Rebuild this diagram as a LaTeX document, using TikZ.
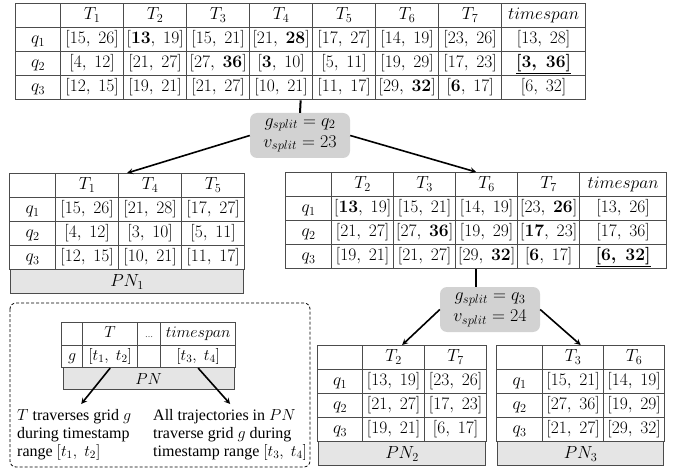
\RequirePackage{fix-cm}
\documentclass[tikz,border=0pt]{standalone}
\usepackage[no-math]{fontspec}
\setmainfont{Liberation Serif}
\usetikzlibrary{matrix,calc}

\newcommand{\cellsize}{\fontsize{17.5}{20}\selectfont}
\newcommand{\iv}[2]{$[#1,\;#2]$}
\newcommand{\bspan}[2]{\underline{\mbox{\boldmath$[#1,\;#2]$}}}

\tikzset{
    tbl/.style={matrix of nodes, nodes in empty cells, anchor=north west, inner sep=0pt,
        column sep=-0.9pt, row sep=-0.9pt,
        nodes={draw=black!70, line width=0.9pt, anchor=center, inner sep=1pt,
            minimum height=24pt, text height=12pt, text depth=4pt, font=\cellsize}},
    pnrow/.style={draw=black!70, line width=0.9pt, fill=gray!20, inner sep=0pt, anchor=north,
        minimum height=24pt, font=\cellsize},
    splitbox/.style={fill=gray!35, rounded corners=7pt, align=center, minimum width=100pt,
        minimum height=45pt, inner sep=2pt, font=\fontsize{18}{21}\selectfont},
    stem/.style={line width=2pt},
    arr/.style={->, >=stealth, line width=1.6pt},
    note/.style={align=left, anchor=north west, inner sep=0pt, font=\fontsize{16}{18}\selectfont}
}

\begin{document}
\begin{tikzpicture}[x=1pt, y=-1pt]
    \useasboundingbox (0,0) rectangle (677,470);

    % root table
    \matrix (top) [tbl, nodes={minimum width=63pt}, column 1/.style={nodes={minimum width=45pt}},
        column 9/.style={nodes={minimum width=84pt}}] at (15,3) {
          & $T_1$ & $T_2$ & $T_3$ & $T_4$ & $T_5$ & $T_6$ & $T_7$ & $timespan$ \\
        $q_1$ & \iv{15}{26} & \iv{\mathbf{13}}{19} & \iv{15}{21} & \iv{21}{\mathbf{28}} & \iv{17}{27} & \iv{14}{19} & \iv{23}{26} & \iv{13}{28} \\
        $q_2$ & \iv{4}{12} & \iv{21}{27} & \iv{27}{\mathbf{36}} & \iv{\mathbf{3}}{10} & \iv{5}{11} & \iv{19}{29} & \iv{17}{23} & \bspan{3}{36} \\
        $q_3$ & \iv{12}{15} & \iv{19}{21} & \iv{21}{27} & \iv{10}{21} & \iv{11}{17} & \iv{29}{\mathbf{32}} & \iv{\mathbf{6}}{17} & \iv{6}{32} \\
    };

    \node (split1) [splitbox] at (300,135.5) {$g_{split}=q_2$\\$v_{split}=23$};

    % left child
    \matrix (pn1) [tbl, nodes={minimum width=63pt}, column 1/.style={nodes={minimum width=46pt}}] at (9,173) {
          & $T_1$ & $T_4$ & $T_5$ \\
        $q_1$ & \iv{15}{26} & \iv{21}{28} & \iv{17}{27} \\
        $q_2$ & \iv{4}{12} & \iv{3}{10} & \iv{5}{11} \\
        $q_3$ & \iv{12}{15} & \iv{10}{21} & \iv{11}{17} \\
    };
    \node (pn1row) [pnrow, minimum width=233.5pt, yshift=0.9pt] at (pn1.south) {$PN_1$};

    % right child
    \matrix (mid) [tbl, nodes={minimum width=62pt}, column 1/.style={nodes={minimum width=46pt}},
        column 6/.style={nodes={minimum width=87pt}}] at (285,172) {
          & $T_2$ & $T_3$ & $T_6$ & $T_7$ & $timespan$ \\
        $q_1$ & \iv{\mathbf{13}}{19} & \iv{15}{21} & \iv{14}{19} & \iv{23}{\mathbf{26}} & \iv{13}{26} \\
        $q_2$ & \iv{21}{27} & \iv{27}{\mathbf{36}} & \iv{19}{29} & \iv{\mathbf{17}}{23} & \iv{17}{36} \\
        $q_3$ & \iv{19}{21} & \iv{21}{27} & \iv{29}{\mathbf{32}} & \iv{\mathbf{6}}{17} & \bspan{6}{32} \\
    };

    \node (split2) [splitbox] at (490,309.5) {$g_{split}=q_3$\\$v_{split}=24$};

    \matrix (pn2) [tbl, nodes={minimum width=62pt}, column 1/.style={nodes={minimum width=45pt}}] at (317,345) {
          & $T_2$ & $T_7$ \\
        $q_1$ & \iv{13}{19} & \iv{23}{26} \\
        $q_2$ & \iv{21}{27} & \iv{17}{23} \\
        $q_3$ & \iv{19}{21} & \iv{6}{17} \\
    };
    \node (pn2row) [pnrow, minimum width=167.2pt, yshift=0.9pt] at (pn2.south) {$PN_2$};

    \matrix (pn3) [tbl, nodes={minimum width=61pt}, column 1/.style={nodes={minimum width=46pt}}] at (496,345) {
          & $T_3$ & $T_6$ \\
        $q_1$ & \iv{15}{21} & \iv{14}{19} \\
        $q_2$ & \iv{27}{36} & \iv{19}{29} \\
        $q_3$ & \iv{21}{27} & \iv{29}{32} \\
    };
    \node (pn3row) [pnrow, minimum width=166.2pt, yshift=0.9pt] at (pn3.south) {$PN_3$};

    % tree edges
    \draw[stem] (top.south) -- (split1.north);
    \draw[arr] (split1.west) -- (pn1.north);
    \draw[arr] (split1.east) -- (mid.north);
    \draw[stem] (mid.south) -- (mid.south |- split2.north);
    \draw[arr] (split2.west) -- (pn2.north);
    \draw[arr] (split2.east) -- (pn3.north);

    % legend
    \draw[dash pattern=on 3pt off 2pt, rounded corners=6pt, line width=0.8pt] (10,303) rectangle (310,467);
    \matrix (leg) [tbl, nodes={minimum height=22.5pt, font=\fontsize{16}{18}\selectfont},
        column 1/.style={nodes={minimum width=21pt}},
        column 2/.style={nodes={minimum width=55pt}}, column 3/.style={nodes={minimum width=23pt}},
        column 4/.style={nodes={minimum width=75pt}}] at (61,322) {
          & $T$ & {\fontsize{8}{9}\selectfont\dots} & $timespan$ \\
        $g$ & \iv{t_1}{t_2} & & \iv{t_3}{t_4} \\
    };
    \node (legrow) [pnrow, minimum width=171.3pt, minimum height=22pt, yshift=0.9pt,
        font=\fontsize{16}{18}\selectfont] at (leg.south) {$PN$};
    \node (noteT) [note] at (17,409) {$T$ traverses grid $g$\\during timestamp\\range $[t_1,\;t_2]$};
    \node (notePN) [note] at (153,409) {All trajectories in $PN$\\traverse grid $g$ during\\timestamp range $[t_3,\;t_4]$};
    \draw[arr] (leg-2-2.south) -- ($(noteT.north)+(7,-5)$);
    \draw[arr] (leg-2-4.south) -- ($(notePN.north)+(0,-5)$);
\end{tikzpicture}
\end{document}
